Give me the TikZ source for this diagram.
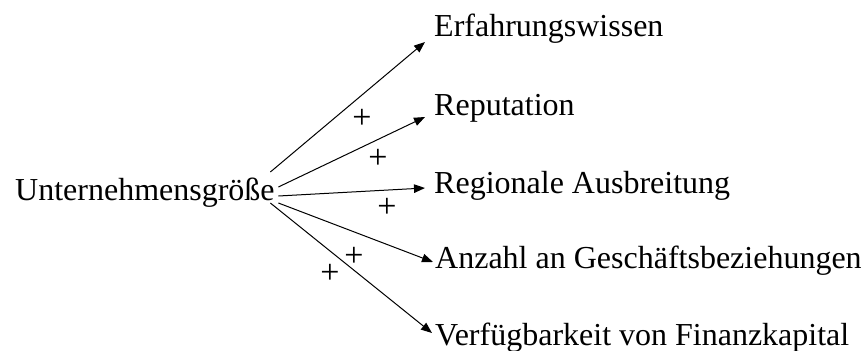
\documentclass[tikz,border=0pt]{standalone}
\usepackage{fontspec}
\setmainfont{Liberation Serif}
\usetikzlibrary{arrows.meta}
\begin{document}
\begin{tikzpicture}[x=1pt,y=-1pt,
  lbl/.style={inner sep=0pt,anchor=base west,font=\fontsize{32}{38}\selectfont},
  pl/.style={inner sep=0pt,font=\fontsize{34}{40}\selectfont},
  arr/.style={line width=1pt,-{Triangle[length=11pt,width=8.5pt]}}]
\useasboundingbox (0,0) rectangle (863,351);
\node[lbl] (U) at (15,200) {Unternehmensgröße};
\node[lbl] (E) at (434,36) {Erfahrungswissen};
\node[lbl] (R) at (434,115) {Reputation};
\node[lbl] (G) at (434,193) {Regionale Ausbreitung};
\node[lbl] (A) at (435,268) {Anzahl an Geschäftsbeziehungen};
\node[lbl] (V) at (435,345) {Verfügbarkeit von Finanzkapital};
\draw[arr] ([xshift=-4.5pt,yshift=28pt]U.base east) -- ([xshift=-9pt,yshift=-6pt]E.base west);
\draw[arr] ([xshift=3.5pt,yshift=13pt]U.base east) -- ([xshift=-9pt,yshift=-2pt]R.base west);
\draw[arr] ([xshift=3.5pt,yshift=4pt]U.base east) -- ([xshift=-9pt,yshift=5pt]G.base west);
\draw[arr] ([xshift=3.5pt,yshift=-3pt]U.base east) -- ([xshift=-2pt,yshift=6pt]A.base west);
\draw[arr] ([xshift=-4.5pt,yshift=-3pt]U.base east) -- ([xshift=-3pt,yshift=12pt]V.base west);
\node[pl] (p1) at (362,119) {+};
\node[pl] (p2) at (378,159) {+};
\node[pl] (p3) at (387,208) {+};
\node[pl] (p4) at (354,257) {+};
\node[pl] (p5) at (330,274) {+};
\end{tikzpicture}
\end{document}
